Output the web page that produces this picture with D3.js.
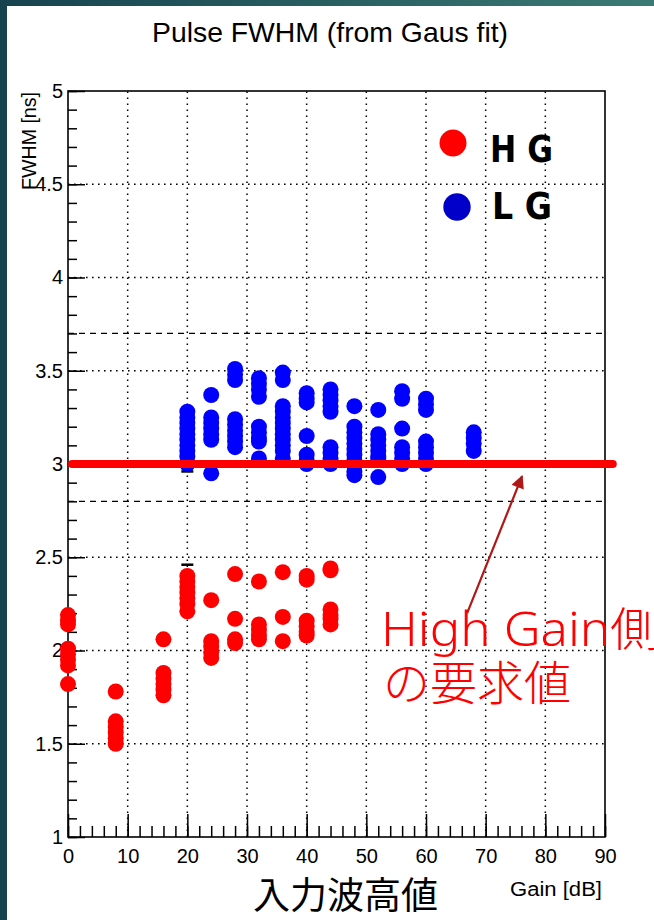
<!DOCTYPE html>
<html>
<head>
<meta charset="utf-8">
<script src="https://cdn.jsdelivr.net/npm/d3@7"></script>
<style>
  body { margin: 0; background: #fff; }
  svg { display: block; }
</style>
</head>
<body>
<div id="chart"></div>
<script>
// HG / LG FWHM values per gain setting
const hgGains = [0, 8, 16, 20, 24, 28, 32, 36, 40, 44];
const hgValues = [
  [2.19, 2.16, 2.14, 2.01, 1.98, 1.95, 1.92, 1.82],
  [1.78, 1.62, 1.59, 1.56, 1.53, 1.50],
  [2.06, 1.88, 1.85, 1.82, 1.79, 1.76],
  [2.40, 2.37, 2.34, 2.31, 2.28, 2.25, 2.21],
  [2.27, 2.05, 2.02, 1.99, 1.96],
  [2.41, 2.17, 2.06, 2.04],
  [2.37, 2.14, 2.11, 2.08, 2.06],
  [2.42, 2.18, 2.05],
  [2.40, 2.38, 2.16, 2.13, 2.10, 2.08],
  [2.44, 2.43, 2.22, 2.19, 2.17, 2.14]
];

const lgGains = [20, 24, 28, 32, 36, 40, 44, 48, 52, 56, 60, 68];
const lgValues = [
  [3.28, 3.25, 3.22, 3.19, 3.16, 3.13, 3.10, 3.07, 3.04, 3.00],
  [3.37, 3.25, 3.22, 3.19, 3.16, 3.13, 2.95],
  [3.51, 3.48, 3.45, 3.24, 3.21, 3.18, 3.15, 3.12, 3.09],
  [3.46, 3.43, 3.40, 3.36, 3.20, 3.17, 3.14, 3.12, 3.03],
  [3.49, 3.45, 3.31, 3.28, 3.25, 3.22, 3.19, 3.16, 3.13, 3.10, 3.07, 3.03],
  [3.38, 3.35, 3.33, 3.15, 3.05, 3.02, 3.00],
  [3.40, 3.37, 3.34, 3.31, 3.28, 3.09, 3.06, 3.03, 3.00],
  [3.31, 3.20, 3.17, 3.14, 3.11, 3.08, 3.05, 3.02, 2.99, 2.96, 2.94],
  [3.29, 3.16, 3.13, 3.10, 3.07, 3.04, 3.03, 2.93],
  [3.39, 3.35, 3.19, 3.09, 3.06, 3.03, 3.00],
  [3.35, 3.32, 3.29, 3.12, 3.09, 3.06, 3.03, 3.00],
  [3.17, 3.14, 3.11, 3.07]
];

// short black error-bar marks peeking out from under the markers
const errMarks = [[20, 2.46], [20, 2.35], [20, 2.31], [20, 3.07], [20, 3.05], [20, 2.98], [20, 2.96]];

const xTicks = d3.range(0, 91, 10);
const xMinor = d3.range(0, 91, 2);
const yTicks = [1, 1.5, 2, 2.5, 3, 3.5, 4, 4.5, 5];
const yMinor = d3.range(10, 51, 1).map(d => d / 10);
const dashedLimits = [3.7, 2.8];
const requirement = { value: 3.0, from: 0, to: 91.3 };
const arrowFrom = [66.9, 2.2], arrowTo = [76.1, 2.935];

const W = 654, H = 920;
const x = d3.scaleLinear().domain([0, 90]).range([68, 605]);
const y = d3.scaleLinear().domain([1, 5]).range([837, 91]);
const rootFont = "'Liberation Sans', Arial, Helvetica, sans-serif";

const svg = d3.select("#chart").append("svg")
  .attr("width", W).attr("height", H);

// slide frame
const defs = svg.append("defs");
const grad = defs.append("linearGradient").attr("id", "band");
grad.append("stop").attr("offset", "0%").attr("stop-color", "#17434f");
grad.append("stop").attr("offset", "100%").attr("stop-color", "#3b7a74");
svg.append("rect").attr("width", W).attr("height", H).attr("fill", "url(#band)");
svg.append("rect").attr("width", 7).attr("height", H).attr("fill", "#17434f");
svg.append("rect").attr("x", 7).attr("y", 6).attr("width", W - 7).attr("height", H - 6).attr("fill", "#fff");

// title
svg.append("text")
  .attr("x", 330).attr("y", 42)
  .attr("text-anchor", "middle")
  .attr("font-family", rootFont).attr("font-size", 28)
  .attr("textLength", 356).attr("lengthAdjust", "spacingAndGlyphs")
  .text("Pulse FWHM (from Gaus fit)");

// grid
const grid = svg.append("g").attr("stroke", "#000").attr("stroke-width", 1.5)
  .attr("stroke-dasharray", "1.6,4.4");
grid.selectAll(".gx").data(xTicks.filter(d => d > 0 && d < 90)).join("line")
  .attr("x1", d => x(d)).attr("x2", d => x(d))
  .attr("y1", y(1)).attr("y2", y(5));
grid.selectAll(".gy").data(yTicks.filter(d => d > 1 && d < 5)).join("line")
  .attr("x1", x(0)).attr("x2", x(90))
  .attr("y1", d => y(d)).attr("y2", d => y(d));

// dashed limits
svg.append("g").selectAll("line").data(dashedLimits).join("line")
  .attr("x1", x(0)).attr("x2", x(90))
  .attr("y1", d => y(d)).attr("y2", d => y(d))
  .attr("stroke", "#000").attr("stroke-width", 1.2)
  .attr("stroke-dasharray", "6,5");

// axes (ticks point into the frame, as ROOT does)
const xAxisG = svg.append("g").attr("transform", `translate(0,${y(1)})`)
  .call(d3.axisBottom(x).tickValues(xTicks).tickSizeInner(-23).tickSizeOuter(0).tickPadding(12));
const xMinorG = svg.append("g").attr("transform", `translate(0,${y(1)})`)
  .call(d3.axisBottom(x).tickValues(xMinor).tickSize(-11).tickFormat(""));
const yAxisG = svg.append("g").attr("transform", `translate(${x(0)},0)`)
  .call(d3.axisLeft(y).tickValues(yTicks).tickSizeInner(-17).tickSizeOuter(0).tickPadding(5)
    .tickFormat(d3.format("~g")));
const yMinorG = svg.append("g").attr("transform", `translate(${x(0)},0)`)
  .call(d3.axisLeft(y).tickValues(yMinor).tickSize(-9).tickFormat(""));

[xAxisG, xMinorG, yAxisG, yMinorG].forEach(g => {
  g.select(".domain").remove();
  g.selectAll("line").attr("stroke", "#000").attr("stroke-width", 1.5);
  g.selectAll("text").attr("font-family", rootFont).attr("font-size", 20).attr("fill", "#000");
});

// frame
svg.append("rect")
  .attr("x", x(0)).attr("y", y(5))
  .attr("width", x(90) - x(0)).attr("height", y(1) - y(5))
  .attr("fill", "none").attr("stroke", "#000").attr("stroke-width", 1.6);

// axis titles
svg.append("text")
  .attr("transform", `translate(36,${y(5) + 1}) rotate(-90)`)
  .attr("text-anchor", "end")
  .attr("font-family", rootFont).attr("font-size", 20)
  .attr("textLength", 98).attr("lengthAdjust", "spacingAndGlyphs")
  .text("FWHM [ns]");
svg.append("text")
  .attr("x", 602).attr("y", 896)
  .attr("text-anchor", "end")
  .attr("font-family", rootFont).attr("font-size", 20)
  .attr("textLength", 92).attr("lengthAdjust", "spacingAndGlyphs")
  .text("Gain [dB]");

// error-bar marks
svg.append("g").selectAll("line").data(errMarks).join("line")
  .attr("x1", d => x(d[0]) - 6).attr("x2", d => x(d[0]) + 6)
  .attr("y1", d => y(d[1])).attr("y2", d => y(d[1]))
  .attr("stroke", "#000").attr("stroke-width", 2.5);

// markers
function drawSeries(gains, values, color) {
  const pts = gains.flatMap((g, i) => values[i].map(v => [g, v]));
  svg.append("g").selectAll("circle").data(pts).join("circle")
    .attr("cx", d => x(d[0])).attr("cy", d => y(d[1]))
    .attr("r", 8).attr("fill", color);
}
drawSeries(hgGains, hgValues, "#ff0000");
drawSeries(lgGains, lgValues, "#0000ff");

// legend
const legend = svg.append("g");
legend.append("circle").attr("cx", 453).attr("cy", 143).attr("r", 13.5).attr("fill", "#ff0000");
legend.append("circle").attr("cx", 457).attr("cy", 207).attr("r", 13.7).attr("fill", "#0000c8");
legend.append("text").attr("x", 490).attr("y", 162)
  .attr("font-family", "'DejaVu Sans', sans-serif").attr("font-weight", "bold").attr("font-size", 38)
  .attr("textLength", 63).attr("lengthAdjust", "spacingAndGlyphs").text("H G");
legend.append("text").attr("x", 492).attr("y", 219)
  .attr("font-family", "'DejaVu Sans', sans-serif").attr("font-weight", "bold").attr("font-size", 38)
  .attr("textLength", 60).attr("lengthAdjust", "spacingAndGlyphs").text("L G");

// requirement line
svg.append("line")
  .attr("x1", x(requirement.from) + 4).attr("x2", x(requirement.to))
  .attr("y1", y(requirement.value)).attr("y2", y(requirement.value))
  .attr("stroke", "#ff0000").attr("stroke-width", 8).attr("stroke-linecap", "round");

// arrow annotation
defs.append("marker").attr("id", "head")
  .attr("viewBox", "0 0 10 10").attr("refX", 9).attr("refY", 5)
  .attr("markerWidth", 7).attr("markerHeight", 6).attr("orient", "auto")
  .append("path").attr("d", "M0,0L10,5L0,10Z").attr("fill", "#b01818");
svg.append("line")
  .attr("x1", x(arrowFrom[0])).attr("y1", y(arrowFrom[1]))
  .attr("x2", x(arrowTo[0])).attr("y2", y(arrowTo[1]))
  .attr("stroke", "#b01818").attr("stroke-width", 2.2)
  .attr("marker-end", "url(#head)");

// annotation text
const note = svg.append("g")
  .attr("font-family", "'Noto Sans', 'Noto Sans CJK JP', sans-serif")
  .attr("font-size", 47).attr("font-weight", 300).attr("fill", "#ff0000");
note.append("text").attr("x", 381).attr("y", 646)
  .attr("textLength", 280).attr("lengthAdjust", "spacingAndGlyphs")
  .text("High Gain側");
note.append("text").attr("x", 383).attr("y", 700)
  .attr("font-family", "'Noto Sans CJK JP', sans-serif").text("の要求値");

// japanese axis caption
svg.append("text")
  .attr("x", 253).attr("y", 909)
  .attr("font-family", "'Noto Sans CJK JP', sans-serif").attr("font-size", 37)
  .attr("fill", "#000")
  .text("入力波高値");
</script>
</body>
</html>
